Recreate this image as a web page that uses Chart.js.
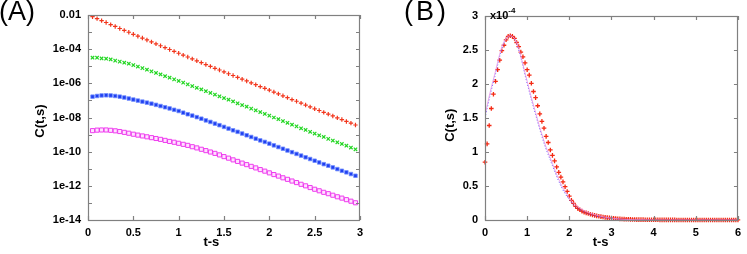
<!DOCTYPE html>
<html>
<head>
<meta charset="utf-8">
<script src="https://cdn.jsdelivr.net/npm/chart.js@4/dist/chart.umd.min.js"></script>
<style>
  html, body { margin: 0; padding: 0; background: #fff; }
  #wrap { position: relative; width: 747px; height: 254px; overflow: hidden; }
  canvas { position: absolute; top: 0; }
  .lab { position: absolute; font-family: 'Liberation Sans', Arial, sans-serif; font-size: 27px; line-height: 27px; color: #000; }
  .mult { position: absolute; font: bold 11px 'Liberation Sans', Arial, sans-serif; line-height: 11px; color: #000; }
  .mult span { font-size: 8px; vertical-align: 6px; }
</style>
</head>
<body>
<div id="wrap">
  <canvas id="ca" width="375" height="254" style="left:0"></canvas>
  <canvas id="cb" width="372" height="254" style="left:375px"></canvas>
  <div class="lab" style="left:-1px;top:-2px">(A)</div>
  <div class="lab" style="left:404px;top:-2px;letter-spacing:3px">(B)</div>
  <div class="mult" style="left:490px;top:5px">x10<span>-4</span></div>
</div>
<script>
// ---------- Panel A data (log scale) ----------
const tA = [0.05,0.1,0.15,0.2,0.25,0.3,0.35,0.4,0.45,0.5,0.55,0.6,0.65,0.7,0.75,0.8,0.85,0.9,0.95,1,
  1.05,1.1,1.15,1.2,1.25,1.3,1.35,1.4,1.45,1.5,1.55,1.6,1.65,1.7,1.75,1.8,1.85,1.9,1.95,2,
  2.05,2.1,2.15,2.2,2.25,2.3,2.35,2.4,2.45,2.5,2.55,2.6,2.65,2.7,2.75,2.8,2.85,2.9,2.95];
const redA = [7.94e-3,6.17e-3,4.68e-3,3.63e-3,2.75e-3,2.14e-3,1.62e-3,1.26e-3,9.77e-4,7.41e-4,
  5.75e-4,4.47e-4,3.47e-4,2.69e-4,2.04e-4,1.58e-4,1.23e-4,9.55e-5,7.41e-5,5.75e-5,
  4.47e-5,3.47e-5,2.69e-5,2.09e-5,1.62e-5,1.26e-5,9.77e-6,7.59e-6,6.03e-6,4.68e-6,
  3.63e-6,2.88e-6,2.24e-6,1.74e-6,1.38e-6,1.07e-6,8.32e-7,6.46e-7,5.13e-7,3.98e-7,
  3.09e-7,2.40e-7,1.86e-7,1.45e-7,1.12e-7,8.91e-8,6.92e-8,5.37e-8,4.17e-8,3.24e-8,
  2.57e-8,2.00e-8,1.58e-8,1.23e-8,9.55e-9,7.59e-9,5.89e-9,4.68e-9,3.63e-9];
const greenA = [3.16e-5,3.16e-5,2.88e-5,2.75e-5,2.51e-5,2.14e-5,1.86e-5,1.62e-5,1.41e-5,1.17e-5,
  9.55e-6,7.76e-6,6.31e-6,5.01e-6,4.07e-6,3.31e-6,2.63e-6,2.14e-6,1.70e-6,1.38e-6,
  1.10e-6,8.71e-7,6.92e-7,5.50e-7,4.37e-7,3.47e-7,2.75e-7,2.19e-7,1.74e-7,1.38e-7,
  1.10e-7,8.71e-8,6.76e-8,5.37e-8,4.27e-8,3.31e-8,2.63e-8,2.09e-8,1.62e-8,1.29e-8,
  1.00e-8,7.94e-9,6.17e-9,4.90e-9,3.80e-9,3.02e-9,2.34e-9,1.86e-9,1.45e-9,1.15e-9,
  9.12e-10,7.24e-10,5.62e-10,4.47e-10,3.55e-10,2.82e-10,2.24e-10,1.74e-10,1.38e-10];
const blueA = [1.66e-7,1.82e-7,1.95e-7,2.00e-7,1.95e-7,1.82e-7,1.66e-7,1.48e-7,1.29e-7,1.12e-7,
  9.77e-8,8.51e-8,7.41e-8,6.46e-8,5.50e-8,4.68e-8,3.98e-8,3.39e-8,2.82e-8,2.40e-8,
  1.91e-8,1.55e-8,1.29e-8,1.05e-8,8.51e-9,6.76e-9,5.50e-9,4.37e-9,3.55e-9,2.82e-9,
  2.24e-9,1.78e-9,1.45e-9,1.15e-9,9.12e-10,7.24e-10,5.75e-10,4.57e-10,3.72e-10,2.95e-10,
  2.34e-10,1.86e-10,1.48e-10,1.17e-10,9.33e-11,7.41e-11,5.89e-11,4.68e-11,3.72e-11,2.95e-11,
  2.34e-11,1.86e-11,1.51e-11,1.20e-11,9.55e-12,7.59e-12,6.17e-12,4.90e-12,3.89e-12];
const magentaA = [1.70e-9,1.82e-9,1.86e-9,1.86e-9,1.78e-9,1.66e-9,1.51e-9,1.35e-9,1.20e-9,1.05e-9,
  9.33e-10,8.32e-10,7.41e-10,6.61e-10,5.89e-10,5.25e-10,4.57e-10,3.98e-10,3.55e-10,3.09e-10,
  2.69e-10,2.34e-10,1.95e-10,1.66e-10,1.38e-10,1.15e-10,9.55e-11,7.94e-11,6.46e-11,5.13e-11,
  4.17e-11,3.31e-11,2.69e-11,2.14e-11,1.74e-11,1.38e-11,1.12e-11,8.91e-12,7.24e-12,5.75e-12,
  4.57e-12,3.72e-12,2.95e-12,2.40e-12,1.91e-12,1.55e-12,1.23e-12,1.00e-12,7.94e-13,6.31e-13,
  5.13e-13,4.17e-13,3.47e-13,2.82e-13,2.29e-13,1.91e-13,1.55e-13,1.26e-13,1.02e-13];
const xTicksA = [0,0.5,1,1.5,2,2.5,3];
const xTickLabelsA = ['0','0.5','1','1.5','2','2.5','3'];
const yTicksA = [1e-2,1e-4,1e-6,1e-8,1e-10,1e-12,1e-14];
const yTickLabelsA = ['0.01','1e-04','1e-06','1e-08','1e-10','1e-12','1e-14'];
const yMinorA = [1e-3,1e-5,1e-7,1e-9,1e-11,1e-13];

// ---------- Panel B data (values in units of 1e-4) ----------
const tB = [0,0.05,0.1,0.15,0.2,0.25,0.3,0.35,0.4,0.45,0.5,0.55,0.6,0.65,0.7,0.75,0.8,0.85,0.9,0.95,
  1,1.05,1.1,1.15,1.2,1.25,1.3,1.35,1.4,1.45,1.5,1.55,1.6,1.65,1.7,1.75,1.8,1.85,1.9,1.95,
  2,2.05,2.1,2.15,2.2,2.25,2.3,2.35,2.4,2.45,2.5,2.55,2.6,2.65,2.7,2.75,2.8,2.85,2.9,2.95,
  3,3.05,3.1,3.15,3.2,3.25,3.3,3.35,3.4,3.45,3.5,3.55,3.6,3.65,3.7,3.75,3.8,3.85,3.9,3.95,
  4,4.05,4.1,4.15,4.2,4.25,4.3,4.35,4.4,4.45,4.5,4.55,4.6,4.65,4.7,4.75,4.8,4.85,4.9,4.95,
  5,5.05,5.1,5.15,5.2,5.25,5.3,5.35,5.4,5.45,5.5,5.55,5.6,5.65,5.7,5.75,5.8,5.85,5.9,5.95,6];
const redB = [0.85,1.12,1.39,1.64,1.85,2.04,2.21,2.35,2.49,2.57,
  2.65,2.70,2.71,2.70,2.67,2.61,2.55,2.47,2.40,2.31,
  2.21,2.13,2.01,1.89,1.80,1.68,1.56,1.45,1.35,1.23,
  1.14,1.03,0.95,0.87,0.78,0.70,0.63,0.56,0.49,0.42,
  0.35,0.29,0.245,0.20,0.17,0.15,0.13,0.115,0.105,0.095,
  0.085,0.075,0.068,0.061,0.055,0.049,0.044,0.039,0.035,0.031,
  0.028,0.025,0.022,0.019,0.017,0.015,0.013,0.012,0.010,0.009,
  0.008,0.007,0.006,0.006,0.005,0.005,0.004,0.004,0.004,0.003,
  0.003,0.003,0.003,0.002,0.002,0.002,0.002,0.002,0.002,0.002,
  0.002,0.001,0.001,0.001,0.001,0.001,0.001,0.001,0.001,0.001,
  0.001,0.001,0.001,0.001,0.001,0.001,0.001,0.001,0.001,0.001,
  0.001,0.001,0.001,0.001,0.001,0.001,0.001,0.001,0.001,0.001,0.001];
const blueB = [1.50,1.64,1.78,1.91,2.03,2.15,2.28,2.41,2.52,2.60,
  2.66,2.70,2.71,2.70,2.67,2.60,2.50,2.39,2.27,2.13,
  2.01,1.89,1.77,1.66,1.55,1.44,1.33,1.23,1.13,1.04,
  0.96,0.88,0.80,0.72,0.64,0.57,0.50,0.44,0.39,0.34,
  0.30,0.26,0.22,0.19,0.17,0.15,0.13,0.115,0.10,0.09,
  0.08,0.07,0.062,0.055,0.048,0.042,0.037,0.032,0.028,0.024,
  0.021,0.018,0.015,0.013,0.011,0.009,0.008,0.007,0.006,0.005,
  0.004,0.004,0.003,0.003,0.002,0.002,0.002,0.001,0.001,0.001,
  0.001,0,0,0,0,0,0,0,0,0,
  0,0,0,0,0,0,0,0,0,0,
  0,0,0,0,0,0,0,0,0,0,
  0,0,0,0,0,0,0,0,0,0,0];
const pinkB = [1.53,1.68,1.82,1.95,2.07,2.19,2.32,2.44,2.55,2.62,
  2.67,2.70,2.71,2.70,2.67,2.61,2.52,2.41,2.29,2.16,
  2.04,1.92,1.80,1.69,1.58,1.47,1.36,1.26,1.16,1.07,
  0.99,0.91,0.83,0.75,0.67,0.60,0.53,0.47,0.42,0.37,
  0.32,0.28,0.25,0.22,0.195,0.175,0.155,0.14,0.125,0.11,
  0.10,0.09,0.08,0.07,0.062,0.055,0.048,0.042,0.037,0.032,
  0.028,0.024,0.021,0.018,0.015,0.013,0.011,0.009,0.008,0.007,
  0.006,0.005,0.004,0.004,0.003,0.003,0.002,0.002,0.002,0.001,
  0.001,0.001,0,0,0,0,0,0,0,0,
  0,0,0,0,0,0,0,0,0,0,
  0,0,0,0,0,0,0,0,0,0,
  0,0,0,0,0,0,0,0,0,0,0];
const xTicksB = [0,1,2,3,4,5,6];
const xTickLabelsB = ['0','1','2','3','4','5','6'];
const yTicksB = [0,0.5,1,1.5,2,2.5,3];
const yTickLabelsB = ['0','0.5','1','1.5','2','2.5','3'];

// ---------- common setup ----------
Chart.defaults.font.family = "'Liberation Sans', Arial, Helvetica, sans-serif";
Chart.defaults.color = '#000';

const tickFont = { size: 11, weight: 'bold' };
const titleFont = { size: 13, weight: 'bold' };
const noGrid = { display: false, drawTicks: false, tickLength: 0 };

function pts(xs, ys) { return xs.map((x, i) => ({ x: x, y: ys[i] })); }

const framePlugin = {
  id: 'frame',
  afterDatasetsDraw(chart, args, opts) {
    const { ctx, chartArea: a, scales } = chart;
    ctx.save();
    ctx.strokeStyle = '#808080';
    ctx.lineWidth = 1.2;
    const L = 4;
    ctx.beginPath();
    (opts.yMarks || []).forEach(v => {
      const py = Math.round(scales.y.getPixelForValue(v)) + 0.5;
      ctx.moveTo(a.left, py); ctx.lineTo(a.left + L, py);
      ctx.moveTo(a.right, py); ctx.lineTo(a.right - L, py);
    });
    (opts.xMarks || []).forEach(v => {
      const px = Math.round(scales.x.getPixelForValue(v)) + 0.5;
      ctx.moveTo(px, a.bottom); ctx.lineTo(px, a.bottom - L);
      ctx.moveTo(px, a.top); ctx.lineTo(px, a.top + L);
    });
    ctx.stroke();
    ctx.strokeRect(Math.round(a.left) + 0.5, Math.round(a.top) + 0.5,
                   Math.round(a.right - a.left) - 1, Math.round(a.bottom - a.top));
    ctx.restore();
  }
};

function fixWidth(w) { return function (scale) { scale.width = w; }; }
function fixHeight(h) { return function (scale) { scale.height = h; }; }

// ---------- Panel A ----------
new Chart(document.getElementById('ca'), {
  type: 'scatter',
  data: {
    datasets: [
      { data: pts(tA, magentaA), pointStyle: 'rect', pointRadius: 2.9, borderColor: '#ee3cee', backgroundColor: 'rgba(255,170,255,0.35)', borderWidth: 1, showLine: false },
      { data: pts(tA, blueA), pointStyle: 'rect', pointRadius: 2.5, borderColor: 'rgba(110,140,255,0.8)', backgroundColor: '#1f3ff0', borderWidth: 1, showLine: false },
      { data: pts(tA, greenA), pointStyle: 'crossRot', pointRadius: 2.4, borderColor: '#22d622', borderWidth: 1.2, showLine: false },
      { data: pts(tA, redA), pointStyle: 'cross', pointRadius: 2.2, borderColor: '#f2361c', borderWidth: 1.2, showLine: false }
    ]
  },
  options: {
    responsive: false, animation: false, devicePixelRatio: 1,
    layout: { padding: { top: 15, right: 15, left: 0, bottom: 0 } },
    plugins: { legend: { display: false }, tooltip: { enabled: false },
      frame: { yMarks: yTicksA.concat(yMinorA), xMarks: xTicksA } },
    scales: {
      x: {
        type: 'linear', min: 0, max: 3,
        grid: noGrid, border: { display: false },
        afterBuildTicks: s => { s.ticks = xTicksA.map(v => ({ value: v })); },
        ticks: { font: tickFont, padding: 6, maxRotation: 0, autoSkip: false,
          callback: v => { const i = xTicksA.indexOf(v); return i >= 0 ? xTickLabelsA[i] : ''; } },
        title: { display: true, text: 't-s       ', font: titleFont, padding: { top: 0, bottom: 4 } },
        afterFit: fixHeight(34)
      },
      y: {
        type: 'logarithmic', min: 1e-14, max: 1e-2,
        grid: noGrid, border: { display: false },
        afterBuildTicks: s => { s.ticks = yTicksA.map(v => ({ value: v })); },
        ticks: { font: tickFont, padding: 7, autoSkip: false,
          callback: v => { const i = yTicksA.findIndex(t => Math.abs(Math.log10(t) - Math.log10(v)) < 1e-6); return i >= 0 ? yTickLabelsA[i] : ''; } },
        title: { display: true, text: 'C(t,s)  ', font: titleFont, padding: { top: 33, bottom: 0 } },
        afterFit: fixWidth(88)
      }
    }
  },
  plugins: [framePlugin]
});

// ---------- Panel B ----------
new Chart(document.getElementById('cb'), {
  type: 'scatter',
  data: {
    datasets: [
      { data: pts(tB, pinkB), showLine: true, pointRadius: 0, borderColor: 'rgba(232,150,232,0.85)', borderWidth: 1, tension: 0 },
      { data: pts(tB, blueB), showLine: true, pointRadius: 0, borderColor: 'rgba(70,70,255,0.9)', borderWidth: 1, borderDash: [1, 2], tension: 0 },
      { data: pts(tB, redB), pointStyle: 'cross', pointRadius: 2.3, borderColor: '#f42a14', borderWidth: 1.3, showLine: false, clip: 4 }
    ]
  },
  options: {
    responsive: false, animation: false, devicePixelRatio: 1,
    layout: { padding: { top: 16, right: 4, left: 0, bottom: 0 } },
    plugins: { legend: { display: false }, tooltip: { enabled: false },
      frame: { yMarks: yTicksB, xMarks: xTicksB } },
    scales: {
      x: {
        type: 'linear', min: 0, max: 6,
        grid: noGrid, border: { display: false },
        afterBuildTicks: s => { s.ticks = xTicksB.map(v => ({ value: v })); },
        ticks: { font: tickFont, padding: 6, maxRotation: 0, autoSkip: false,
          callback: v => { const i = xTicksB.indexOf(v); return i >= 0 ? xTickLabelsB[i] : ''; } },
        title: { display: true, text: 't-s      ', font: titleFont, padding: { top: 0, bottom: 4 } },
        afterFit: fixHeight(34)
      },
      y: {
        type: 'linear', min: 0, max: 3,
        grid: noGrid, border: { display: false },
        afterBuildTicks: s => { s.ticks = yTicksB.map(v => ({ value: v })); },
        ticks: { font: tickFont, padding: 7, autoSkip: false,
          callback: v => { const i = yTicksB.indexOf(v); return i >= 0 ? yTickLabelsB[i] : ''; } },
        title: { display: true, text: 'C(t,s)    ', font: titleFont, padding: { top: 68, bottom: 0 } },
        afterFit: fixWidth(110)
      }
    }
  },
  plugins: [framePlugin]
});
</script>
</body>
</html>
